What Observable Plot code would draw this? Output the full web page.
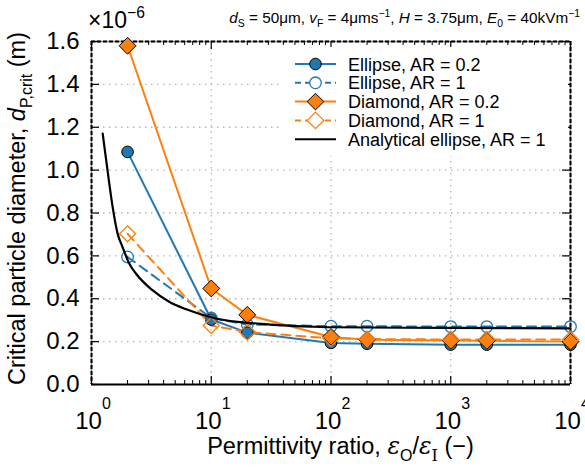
<!DOCTYPE html>
<html><head><meta charset="utf-8">
<script src="https://cdn.jsdelivr.net/npm/d3@7"></script>
<script src="https://cdn.jsdelivr.net/npm/@observablehq/plot@0.6"></script>
<style>body{margin:0;background:#fff}#chart{width:585px;height:467px}</style>
</head><body><div id="chart"></div>
<script>
// ---- data (diameters in units of 1e-6 m) ----
const ratios = [2, 10, 20, 100, 200, 1000, 2000, 10000];
const ellipseAR02 = [1.085, 0.303, 0.242, 0.194, 0.190, 0.186, 0.186, 0.186];
const ellipseAR1  = [0.595, 0.310, 0.280, 0.272, 0.272, 0.270, 0.270, 0.270];
const diamondAR02 = [1.580, 0.448, 0.325, 0.222, 0.209, 0.205, 0.204, 0.200];
const diamondAR1  = [0.703, 0.275, 0.245, 0.215, 0.212, 0.210, 0.210, 0.210];
const analyticalX = [1.24, 1.36, 1.5, 1.65, 1.81, 2.06, 2.34, 3.23, 4.45, 6.1, 10.9, 26, 68, 100, 1000, 10000];
const analyticalY = [1.17, 1.0, 0.83, 0.705, 0.643, 0.566, 0.519, 0.44, 0.386, 0.352, 0.308, 0.283, 0.27, 0.267, 0.264, 0.262];
const yTicks = [0, 0.2, 0.4, 0.6, 0.8, 1.0, 1.2, 1.4, 1.6];
const yTickLabels = ["0.0","0.2","0.4","0.6","0.8","1.0","1.2","1.4","1.6"];
const xMajorTicks = [1, 10, 100, 1000, 10000];
const xExponents = ["0","1","2","3","4"];
const legendLabels = ["Ellipse, AR = 0.2","Ellipse, AR = 1","Diamond, AR = 0.2","Diamond, AR = 1","Analytical ellipse, AR = 1"];

const blue = "#1f77b4", orange = "#ff7f0e";
const W = 585, H = 467, mL = 91, mR = 15, mT = 41, mB = 83;
const fw = W - mL - mR, fh = H - mT - mB;
const font = "'Liberation Sans', Arial, Helvetica, sans-serif";

const minorTicks = [];
for (let d = 1; d < 10000; d *= 10) for (let k = 2; k <= 9; k++) minorTicks.push(k * d);

const rows = (ys) => ratios.map((x, i) => ({x, y: ys[i]}));
const e02 = rows(ellipseAR02), e1 = rows(ellipseAR1), d02 = rows(diamondAR02), d1 = rows(diamondAR1);
const ana = analyticalX.map((x, i) => ({x, y: analyticalY[i]}));

const grid = {stroke: "#b5b5b5", strokeDasharray: "1.5,4.5", strokeWidth: 1.3};
const dash = "9,6";

const plot = Plot.plot({
  width: W, height: H, marginLeft: mL, marginRight: mR, marginTop: mT, marginBottom: mB,
  style: {fontFamily: font, background: "white", overflow: "visible"},
  x: {type: "log", domain: [1, 1e4], axis: null},
  y: {domain: [0, 1.6], axis: null},
  marks: [
    Plot.ruleX(xMajorTicks.slice(1, -1), grid),
    Plot.ruleY(yTicks.slice(1, -1), grid),
    // frame: dashed top/left/right, solid bottom
    Plot.ruleX([1, 1e4], {stroke: "#888", strokeWidth: 1.5}),
    Plot.ruleX([1, 1e4], {stroke: "black", strokeWidth: 2, strokeDasharray: "4,2"}),
    Plot.ruleY([1.6], {stroke: "#888", strokeWidth: 1.5}),
    Plot.ruleY([1.6], {stroke: "black", strokeWidth: 2, strokeDasharray: "4,2"}),
    Plot.ruleY([0], {stroke: "black", strokeWidth: 2}),
    // inward ticks
    Plot.ruleX(minorTicks, {insetTop: fh - 4, stroke: "black", strokeWidth: 1}),
    Plot.ruleX(minorTicks, {insetBottom: fh - 4, stroke: "black", strokeWidth: 1}),
    Plot.ruleX(xMajorTicks, {insetTop: fh - 8, stroke: "black", strokeWidth: 1.2}),
    Plot.ruleX(xMajorTicks, {insetBottom: fh - 8, stroke: "black", strokeWidth: 1.2}),
    Plot.ruleY(yTicks, {insetRight: fw - 8, stroke: "black", strokeWidth: 1.2}),
    Plot.ruleY(yTicks, {insetLeft: fw - 8, stroke: "black", strokeWidth: 1.2}),
    // series
    Plot.line(e02, {x: "x", y: "y", stroke: blue, strokeWidth: 2}),
    Plot.line(e1, {x: "x", y: "y", stroke: blue, strokeWidth: 2, strokeDasharray: dash}),
    Plot.line(d02, {x: "x", y: "y", stroke: orange, strokeWidth: 2}),
    Plot.line(d1, {x: "x", y: "y", stroke: orange, strokeWidth: 2, strokeDasharray: dash}),
    Plot.dot(e02, {x: "x", y: "y", r: 5.8, fill: blue, stroke: "black", strokeWidth: 1}),
    Plot.dot(e1, {x: "x", y: "y", r: 5.8, fill: "none", stroke: blue, strokeWidth: 1.3}),
    Plot.dot(d02, {x: "x", y: "y", r: 7.6, symbol: "diamond2", fill: orange, stroke: "black", strokeWidth: 1}),
    Plot.dot(d1, {x: "x", y: "y", r: 7.2, symbol: "diamond2", fill: "none", stroke: orange, strokeWidth: 1.3}),
    Plot.line(ana, {x: "x", y: "y", stroke: "black", strokeWidth: 2.2, curve: "monotone-x"}),
    // tick labels
    Plot.text(yTicks, {x: 1, y: d => d, text: (d, i) => yTickLabels[i], textAnchor: "end", dx: -12, fontSize: 24, fill: "black"}),
    Plot.text(xMajorTicks, {x: d => d, y: 0, text: () => "10", dx: -3, dy: 37, fontSize: 24, fill: "black"}),
    Plot.text(xMajorTicks, {x: d => d, y: 0, text: (d, i) => xExponents[i], dx: 15, dy: 19, fontSize: 16, fill: "black"})
  ]
});
document.getElementById("chart").appendChild(plot);

const svg = d3.select(plot);
function rich(sel, parts, base) {
  let shift = 0;
  for (const p of parts) {
    const ts = sel.append("tspan").text(p.t);
    const target = p.sub ? base * 0.28 : p.sup ? -base * 0.42 : 0;
    if (target !== shift) { ts.attr("dy", target - shift); shift = target; }
    if (p.sub || p.sup) ts.attr("font-size", base * 0.68);
    if (p.i) ts.attr("font-style", "italic");
    if (p.f) ts.attr("font-family", p.f);
  }
}
const serif = "'DejaVu Serif', 'Liberation Serif', serif";

// ×10^-6
const mult = svg.append("text").attr("x", 88).attr("y", 28).attr("text-anchor", "start").attr("font-size", 23).attr("font-family", font);
rich(mult, [{t: "×10"}, {t: "−6", sup: true}], 23);

// title
const title = svg.append("text").attr("x", 580).attr("y", 23).attr("text-anchor", "end").attr("font-size", 15.3).attr("font-family", font);
rich(title, [
  {t: "d", i: true}, {t: "S", sub: true}, {t: " = 50μm, "},
  {t: "v", i: true}, {t: "F", sub: true}, {t: " = 4μms"}, {t: "−1", sup: true}, {t: ", "},
  {t: "H", i: true}, {t: " = 3.75μm, "},
  {t: "E", i: true}, {t: "0", sub: true}, {t: " = 40kVm"}, {t: "−1", sup: true}
], 15.3);

// x label
const xl = svg.append("text").attr("x", mL + fw / 2 + 10).attr("y", 454).attr("text-anchor", "middle").attr("font-size", 23.5).attr("font-family", font);
rich(xl, [{t: "Permittivity ratio, "}, {t: "ε", i: true, f: serif}, {t: "O", sub: true}, {t: "/"}, {t: "ε", i: true, f: serif}, {t: "I", sub: true, f: serif}, {t: " (−)"}], 23.5);

// y label
const yl = svg.append("text").attr("transform", `translate(25,${mT + fh / 2 - 4}) rotate(-90)`).attr("text-anchor", "middle").attr("font-size", 23.5).attr("font-family", font);
rich(yl, [{t: "Critical particle diameter, "}, {t: "d", i: true}, {t: "P,crit", sub: true}, {t: " (m)"}], 23.5);

// legend
const lg = svg.append("g");
lg.append("rect").attr("x", 281).attr("y", 47).attr("width", 287).attr("height", 109).attr("fill", "white");
const specs = [
  {stroke: blue, dash: null, marker: "circle", fill: blue, ms: "black"},
  {stroke: blue, dash: "6,4", marker: "circle", fill: "none", ms: blue},
  {stroke: orange, dash: null, marker: "diamond", fill: orange, ms: "black"},
  {stroke: orange, dash: "6,4", marker: "diamond", fill: "none", ms: orange},
  {stroke: "black", dash: null, marker: null}
];
specs.forEach((s, i) => {
  const cy = 64 + i * 18.8;
  lg.append("line").attr("x1", 295).attr("x2", 336).attr("y1", cy).attr("y2", cy)
    .attr("stroke", s.stroke).attr("stroke-width", 2).attr("stroke-dasharray", s.dash);
  if (s.marker === "circle") lg.append("circle").attr("cx", 315.5).attr("cy", cy).attr("r", 5.8).attr("fill", s.fill === "none" ? "white" : s.fill).attr("stroke", s.ms).attr("stroke-width", s.fill === "none" ? 1.3 : 1);
  if (s.marker === "diamond") { const h = 8.3; lg.append("path").attr("d", `M315.5,${cy - h}L${315.5 + h},${cy}L315.5,${cy + h}L${315.5 - h},${cy}Z`).attr("fill", s.fill === "none" ? "white" : s.fill).attr("stroke", s.ms).attr("stroke-width", s.fill === "none" ? 1.3 : 1); }
  lg.append("text").attr("x", 348).attr("y", cy + 6.5).attr("text-anchor", "start").attr("font-size", 18).attr("font-family", font).text(legendLabels[i]);
});
</script></body></html>
